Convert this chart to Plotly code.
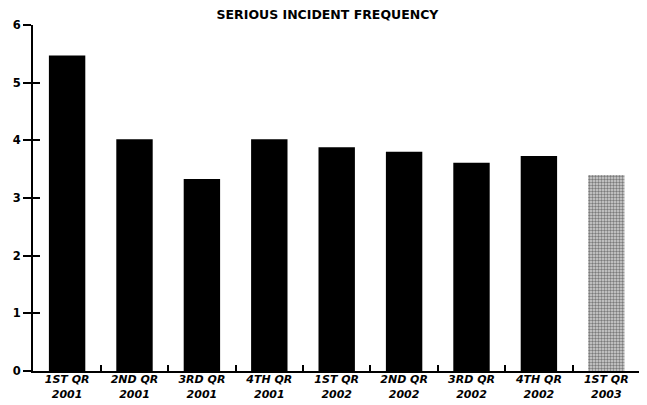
import plotly.graph_objects as go

categories = ["1ST QR<br>2001", "2ND QR<br>2001", "3RD QR<br>2001", "4TH QR<br>2001",
              "1ST QR<br>2002", "2ND QR<br>2002", "3RD QR<br>2002", "4TH QR<br>2002",
              "1ST QR<br>2003"]
values = [5.47, 4.02, 3.33, 4.02, 3.88, 3.80, 3.61, 3.73, 3.40]
y_ticks = [0, 1, 2, 3, 4, 5, 6]

FONT = "DejaVu Sans, Verdana, sans-serif"
solid_n = 8
fig = go.Figure()
fig.add_trace(go.Bar(
    x=categories[:solid_n], y=values[:solid_n],
    marker=dict(color="black", line=dict(width=0)),
    showlegend=False,
))
fig.add_trace(go.Bar(
    x=categories[solid_n:], y=values[solid_n:],
    marker=dict(color="#a0a0a0", line=dict(width=0),
                pattern=dict(shape=".", fgcolor="#222222", bgcolor="#d4d4d4",
                             size=3, solidity=0.5)),
    showlegend=False,
))
# overlay axis for the inward half of y tick marks
fig.add_trace(go.Scatter(x=[categories[0]], y=[0], yaxis="y2", mode="markers",
                         marker=dict(opacity=0), showlegend=False, hoverinfo="skip"))

fig.update_layout(
    width=639, height=397,
    margin=dict(l=25, r=7, t=17, b=34),
    paper_bgcolor="white", plot_bgcolor="white",
    barmode="overlay", bargap=0.46,
    title=dict(text="<b>SERIOUS INCIDENT FREQUENCY</b>", x=0.5, xanchor="center",
               y=0.983, yanchor="middle",
               font=dict(family=FONT, size=12.5, color="black")),
    font=dict(family=FONT, color="black"),
    xaxis=dict(
        categoryorder="array", categoryarray=categories,
        showline=True, linecolor="black", linewidth=2, automargin=False,
        ticks="inside", tickson="boundaries", ticklen=6, tickwidth=1.5, tickcolor="black",
        ticklabelstandoff=-3,
        showgrid=False, zeroline=False,
        tickfont=dict(family=FONT, size=11, color="black", weight="bold",
                      style="italic"),
    ),
    yaxis=dict(
        range=[0, 6], tickvals=y_ticks, automargin=False,
        showline=True, linecolor="black", linewidth=2,
        ticks="outside", ticklen=8, tickwidth=1.5, tickcolor="black",
        showgrid=False, zeroline=False,
        tickfont=dict(family=FONT, size=11.5, color="black", weight="bold"),
    ),
    yaxis2=dict(
        range=[0, 6], tickvals=y_ticks, overlaying="y", side="left", anchor="x",
        ticks="inside", ticklen=7, tickwidth=1.5, tickcolor="black",
        showticklabels=False, showgrid=False, zeroline=False, showline=False,
    ),
)
fig.write_html("out.html")
